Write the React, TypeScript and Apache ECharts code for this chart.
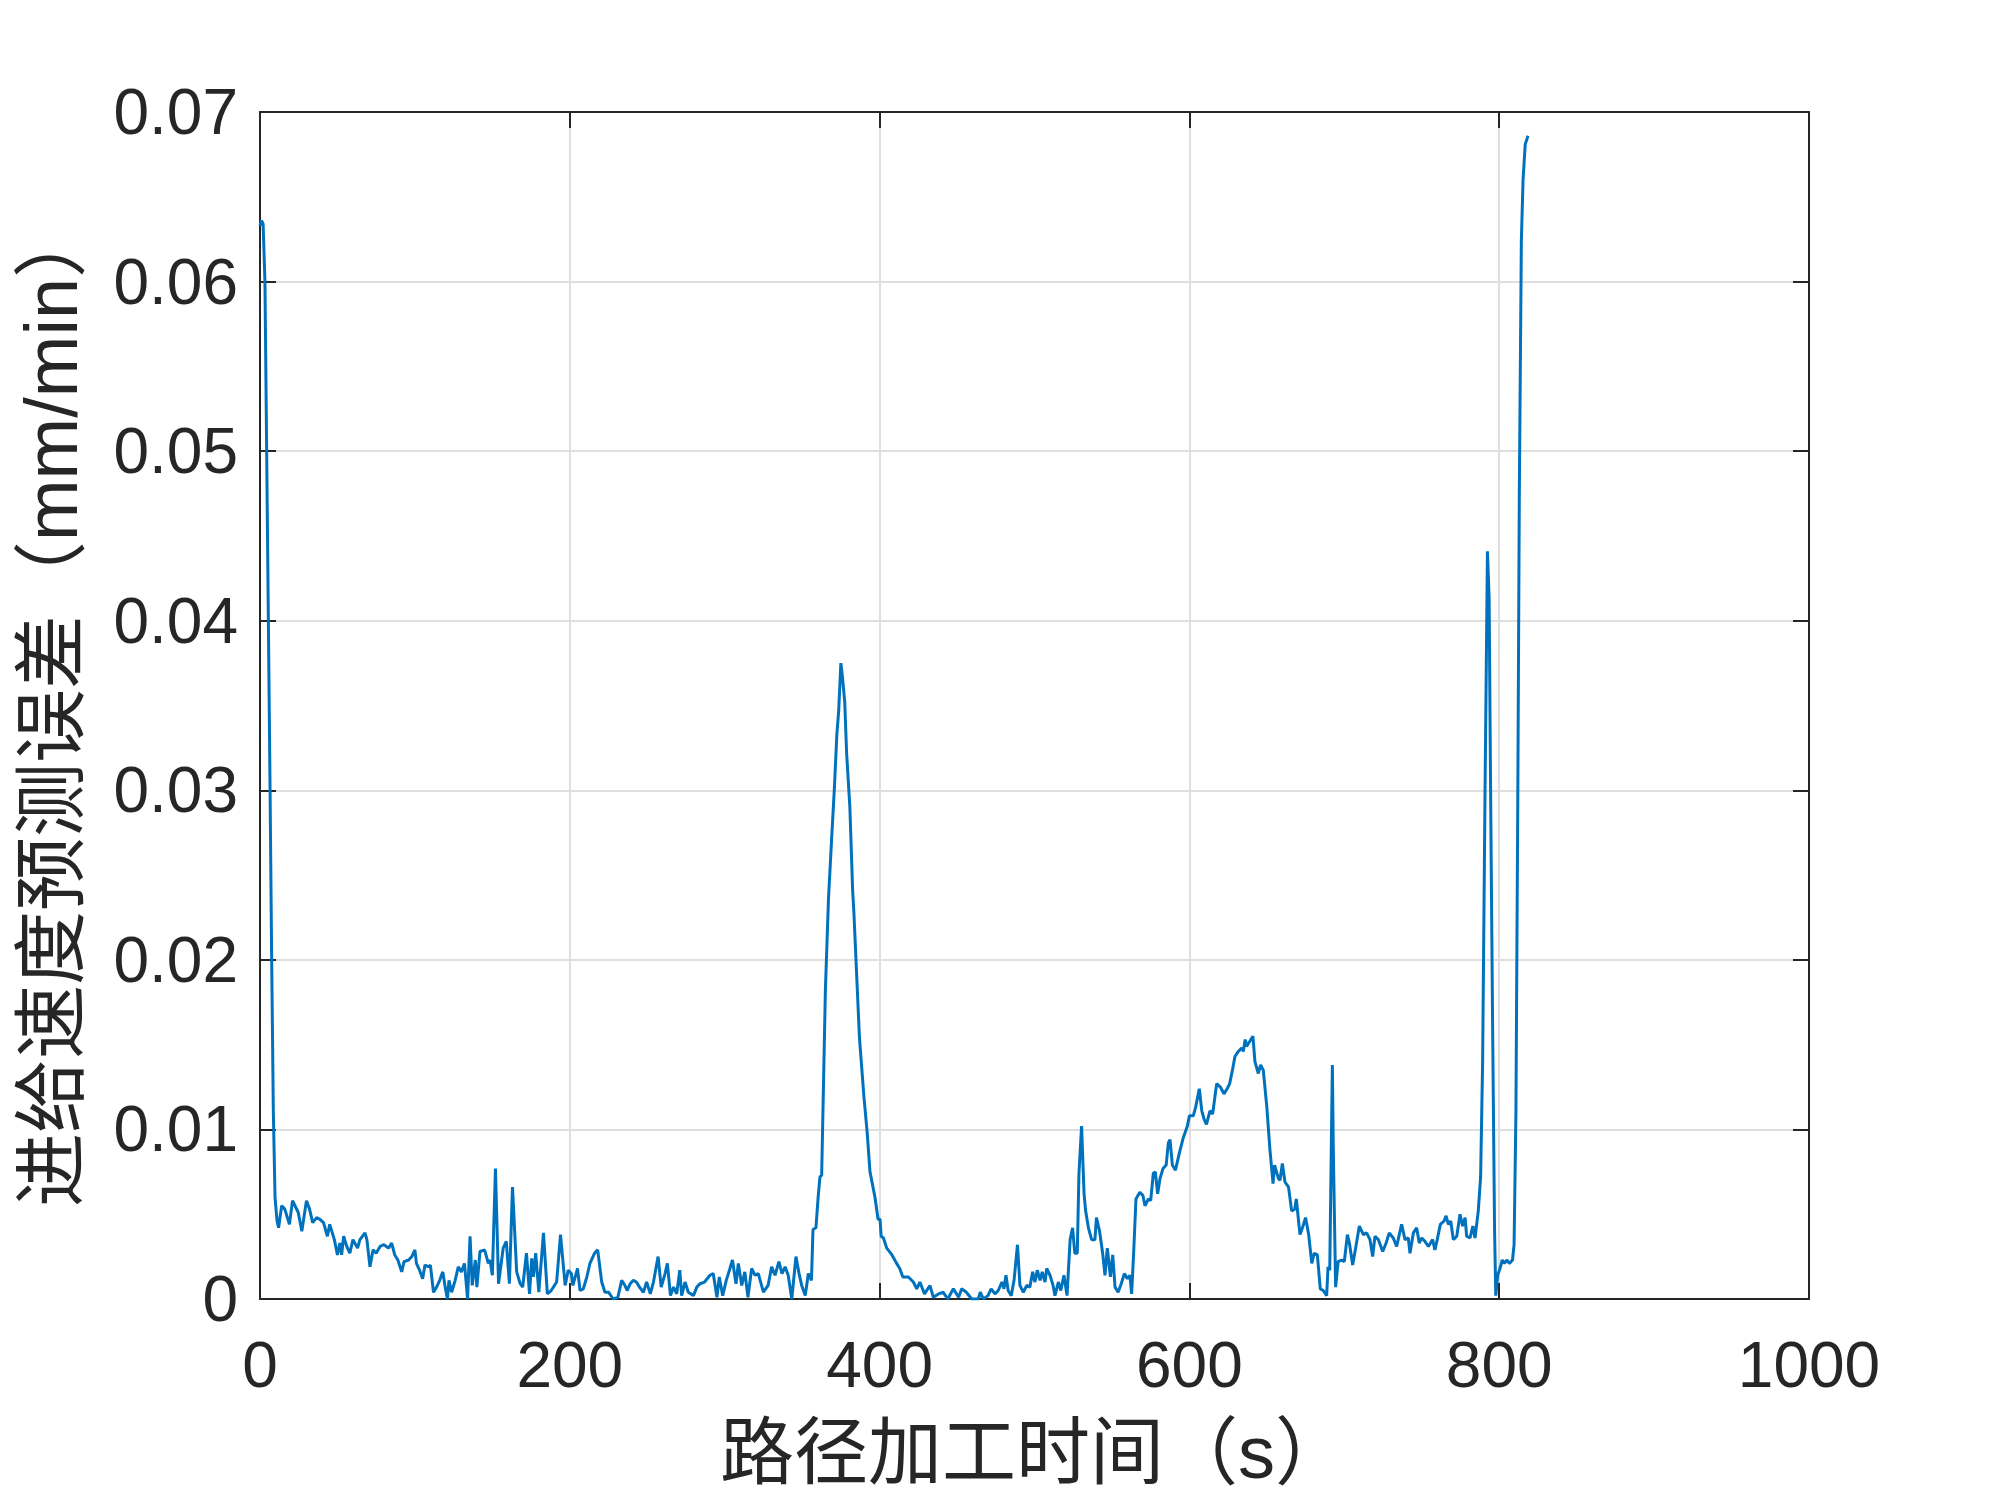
import React, { useEffect, useRef } from "react";
import * as echarts from "echarts";

// Time (s) / feed-speed prediction error (mm/min) pairs, by segment
const startDrop: [number, number][] = [
  [0, 0.0633], [1, 0.0636], [2, 0.0634], [3.2, 0.06], [4.3, 0.05], [5.4, 0.04], [6.5, 0.03],
  [7.5, 0.0203], [8.6, 0.0111], [9.7, 0.006], [11, 0.0046], [12, 0.0042],
];

const earlyNoise: [number, number][] = [
  [14, 0.0055], [16, 0.0053], [19, 0.0044], [21, 0.0058], [22.6, 0.0055], [24.7, 0.0051], [27, 0.004],
  [30, 0.0058], [32, 0.0053], [34, 0.0045], [36.6, 0.0048], [38.7, 0.0047], [41, 0.0045], [43.5, 0.0037],
  [45, 0.0044], [48, 0.0035], [50, 0.0026], [51.6, 0.0033], [52.7, 0.0026], [54, 0.0037], [56, 0.0031],
  [58, 0.0027], [60, 0.0035], [63, 0.003], [64.5, 0.0035], [67.8, 0.0039], [69, 0.0035], [71, 0.0019],
  [73, 0.0029], [75, 0.0027], [77.5, 0.0031], [80, 0.0032], [83, 0.003], [85, 0.0033], [87, 0.0026],
  [89, 0.0023], [91.5, 0.0016], [93, 0.0022], [96, 0.0023], [98, 0.0025], [100, 0.0029], [101, 0.0021],
  [103, 0.0017], [105, 0.0012], [106.5, 0.002], [108.7, 0.0019], [110, 0.002], [112, 0.0004],
  [114, 0.0007], [116, 0.0011], [118, 0.0016], [119.4, 0.0008], [121, 0.0], [122, 0.0011],
  [123.7, 0.0004], [126, 0.0011], [128, 0.0019], [130, 0.0016], [132, 0.0021], [134, 0.0],
  [135.6, 0.0037], [137, 0.0008], [139, 0.0023], [140, 0.0007], [142, 0.0028], [145, 0.0029],
  [147.4, 0.0021], [148.5, 0.0023], [150, 0.0014], [152, 0.0077], [154, 0.0009], [157, 0.003],
  [159, 0.0034], [161, 0.0009], [163, 0.0066], [165.7, 0.0016], [168, 0.0009], [169.6, 0.0007],
  [172, 0.0027], [174, 0.0003], [175.4, 0.0024], [176.5, 0.0013], [178, 0.0027], [180, 0.0004],
  [183, 0.0039], [185.5, 0.0003], [188, 0.0005], [191.5, 0.001], [194, 0.0038], [197, 0.0008],
  [199, 0.0017], [201, 0.0015], [202, 0.0008], [205, 0.0018], [206.6, 0.0005], [208.7, 0.0006],
  [211, 0.0013], [213, 0.0021], [216, 0.0027], [218, 0.0029], [220.6, 0.001], [222.7, 0.0004],
  [225, 0.0004], [228, 0.0], [231, 0.0001], [233.5, 0.0011], [235.6, 0.0008], [237, 0.0005],
  [239, 0.0009], [241, 0.0011], [243, 0.001],
];

const midNoise: [number, number][] = [
  [245, 0.0007], [247.5, 0.0004], [249.6, 0.001], [252, 0.0003], [254, 0.001], [257, 0.0025],
  [259, 0.0007], [261.5, 0.0015], [263, 0.0021], [265, 0.0002], [267, 0.0007], [269, 0.0003],
  [271, 0.0017], [272.2, 0.0002], [274.4, 0.001], [276.5, 0.0004], [279.8, 0.0002], [282, 0.0007],
  [284, 0.0009], [287, 0.001], [290.5, 0.0014], [292.6, 0.0015], [295, 0.0001], [296.5, 0.0013],
  [298.7, 0.0002], [301, 0.0011], [303.4, 0.0018], [305, 0.0023], [307.3, 0.0009], [308.8, 0.0021],
  [311, 0.0008], [313, 0.0016], [315, 0.0001], [317.4, 0.0018], [319.6, 0.0014], [321.7, 0.0015],
  [325, 0.0004], [328, 0.0008], [330.3, 0.0019], [332.5, 0.0014], [335, 0.0022], [337, 0.0015],
  [339, 0.0019], [341, 0.0014], [343.3, 0.0], [346, 0.0025], [348, 0.0015], [349.7, 0.0008],
  [352, 0.0002], [354, 0.0015], [356, 0.0011],
];

const firstPeak: [number, number][] = [
  [357, 0.0041], [358.9, 0.0042], [360.4, 0.0061], [361.5, 0.0072], [362.6, 0.0073], [363.5, 0.0114],
  [365, 0.0182], [367, 0.0236], [369, 0.0271], [370.8, 0.0301], [372.4, 0.0333], [373.6, 0.0347],
  [375, 0.0375], [376, 0.0367], [377.5, 0.0352], [378.7, 0.0322], [380.8, 0.029], [382.6, 0.0241],
  [383.4, 0.0228], [385, 0.0195], [387, 0.0154], [389.9, 0.0119], [392, 0.0098], [393.8, 0.0075],
  [397, 0.006], [399, 0.0047], [400.3, 0.0047], [401, 0.0037], [402.5, 0.0036], [404.6, 0.003],
  [408, 0.0026], [411, 0.0021], [413, 0.0018], [415, 0.0013], [418.6, 0.0013], [421.8, 0.001],
  [424, 0.0006], [426, 0.001], [429, 0.0003], [432.5, 0.0008], [434.7, 0.0001], [438, 0.0003],
  [441, 0.0004], [444, 0.0], [447.6, 0.0006], [451, 0.0001], [453, 0.0006], [456, 0.0004],
  [459.5, 0.0], [463.7, 0.0], [465, 0.0004], [467, 0.0], [470, 0.0002],
];

const hump: [number, number][] = [
  [472, 0.0006], [474.5, 0.0003], [476.6, 0.0005], [479, 0.001], [480.3, 0.0006], [481.6, 0.0014],
  [483, 0.0005], [485, 0.0002], [486.8, 0.0011], [489, 0.0032], [490.6, 0.0008], [492.8, 0.0004],
  [495, 0.0008], [497, 0.0007], [498.8, 0.0016], [500.3, 0.001], [501.8, 0.0017], [503.6, 0.0011],
  [505, 0.0016], [506.8, 0.001], [507.9, 0.0018], [510, 0.0014], [512, 0.0008], [513.2, 0.0002],
  [515.4, 0.001], [517, 0.0005], [519, 0.0014], [521, 0.0002], [523, 0.0035], [524.6, 0.0042],
  [526, 0.0027], [527.6, 0.0027], [528.7, 0.0074], [530.4, 0.0102], [532, 0.0062], [533, 0.0052],
  [534.8, 0.0042], [536.9, 0.0035], [539, 0.0035], [540, 0.0048], [542, 0.004], [544, 0.0027],
  [545.5, 0.0014], [547, 0.003], [549, 0.0013], [550.5, 0.0026], [552, 0.0007], [554, 0.0004],
  [556, 0.0009], [558, 0.0015], [560, 0.0012], [561.6, 0.0014], [562.7, 0.0003], [564, 0.0027],
  [565.5, 0.0059], [568, 0.0063], [570, 0.0061], [571.3, 0.0055], [573.5, 0.0059], [575, 0.0058],
  [576.7, 0.0074], [578, 0.0075], [579.5, 0.0062], [581, 0.0071], [583, 0.0077], [585, 0.0079],
  [586.4, 0.0092], [587.5, 0.0094], [589, 0.0079], [591, 0.0076], [593.5, 0.0086], [596, 0.0095],
  [598.7, 0.0102], [600, 0.0108], [602.5, 0.0108], [604, 0.0113], [606.4, 0.0124], [608, 0.0111],
  [609.5, 0.0106], [611, 0.0103], [613.3, 0.0111], [615, 0.0109], [617.6, 0.0127], [620, 0.0125],
  [622.3, 0.0121], [624.4, 0.0124], [626, 0.0127], [628, 0.0136], [629.4, 0.0143], [631.6, 0.0146],
  [633.7, 0.0148], [634.8, 0.0146], [636, 0.0153], [636.9, 0.0149], [639, 0.0152], [641, 0.0155],
  [642.3, 0.014], [644.5, 0.0133], [646, 0.0138], [647.7, 0.0135], [650, 0.0113], [652, 0.0088],
  [654, 0.0068], [655, 0.0079], [657.5, 0.0071], [658.5, 0.007], [660, 0.008], [661.7, 0.0069],
  [664, 0.0066], [666, 0.0052], [668, 0.0053], [669, 0.0059], [671.4, 0.0038], [673, 0.0042],
  [675, 0.0048], [677, 0.0038], [679, 0.0021], [680.6, 0.0027], [682.6, 0.0026], [684.5, 0.0006],
  [686.4, 0.0005], [688.6, 0.0002], [689.5, 0.0019], [690.6, 0.0017],
];

const lateSection: [number, number][] = [
  [692.3, 0.0138], [692.9, 0.0088], [694.4, 0.0007], [696, 0.0022], [698.3, 0.0023], [700, 0.0022],
  [702, 0.0038], [703.3, 0.0033], [705.4, 0.002], [707.5, 0.0031], [709.7, 0.0043], [712.3, 0.0038],
  [714.4, 0.0039], [716.6, 0.0035], [718.3, 0.0025], [719.8, 0.0037], [722, 0.0035], [724.8, 0.0028],
  [727, 0.0033], [729, 0.0039], [731.6, 0.0036], [733.8, 0.0031], [735.5, 0.0038], [737, 0.0044],
  [739.2, 0.0035], [741.3, 0.0036], [742.4, 0.0027], [744.6, 0.0039], [746.7, 0.0042], [748.4, 0.0033],
  [750, 0.0036], [752, 0.0034], [754.3, 0.0031], [757, 0.0035], [758.5, 0.0029], [760, 0.0035],
  [762, 0.0044], [764.4, 0.0046], [765.7, 0.0049], [767.2, 0.0044], [768.7, 0.0046], [770.4, 0.0035],
  [772.6, 0.0037], [774.7, 0.005], [776.4, 0.0043], [778, 0.0048], [779, 0.0037], [781.2, 0.0036],
  [783, 0.0043], [784.4, 0.0036], [786.5, 0.0052], [788, 0.0072],
];

const endSpikes: [number, number][] = [
  [789.3, 0.014], [790.8, 0.0294], [792.4, 0.0441], [793.5, 0.0413], [794.5, 0.0294], [795.8, 0.0156],
  [797, 0.0041], [797.8, 0.0002], [799, 0.0014], [800.5, 0.0018], [802, 0.0023], [803.4, 0.0021],
  [804.9, 0.0023], [806.6, 0.0021], [808.6, 0.0023], [809.6, 0.0032], [810.8, 0.011], [812, 0.0294],
  [813, 0.0477], [814.3, 0.0624], [815.4, 0.066], [816.8, 0.0681], [818.6, 0.0686],
];

const xTicks = { min: 0, max: 1000, interval: 200 };
const yTicks = { min: 0, max: 0.07, interval: 0.01 };
const xName = "路径加工时间（s）";
const yName = "进给速度预测误差（mm/min）";

const FONT = "'Liberation Sans', Arial, 'Noto Sans CJK SC', sans-serif";
const INK = "#262626";

export default function App() {
  const ref = useRef<HTMLDivElement>(null);

  useEffect(() => {
    if (!ref.current) return;
    const chart = echarts.init(ref.current, undefined, { renderer: "svg" });
    const data = [
      ...startDrop, ...earlyNoise, ...midNoise, ...firstPeak, ...hump, ...lateSection, ...endSpikes,
    ];
    const lineCommon = { show: true, onZero: false, lineStyle: { color: INK, width: 2 } };
    const tickCommon = { show: true, inside: true, length: 16, lineStyle: { color: INK, width: 2 } };
    const gridLine = { show: true, lineStyle: { color: "#dfdfdf", width: 2 } };

    chart.setOption({
      animation: false,
      backgroundColor: "#ffffff",
      grid: { left: 260, top: 112, width: 1549, height: 1187, containLabel: false },
      xAxis: [
        {
          type: "value", position: "bottom", ...xTicks,
          axisLine: lineCommon, axisTick: tickCommon, splitLine: gridLine,
          axisLabel: {
            fontSize: 64, color: INK, fontFamily: FONT, margin: 34,
            formatter: (v: number) => String(v),
          },
          name: xName, nameLocation: "middle", nameGap: 116,
          nameTextStyle: { fontSize: 74, color: INK, fontFamily: FONT },
        },
        {
          type: "value", position: "top", ...xTicks,
          axisLine: lineCommon, axisTick: tickCommon, splitLine: { show: false },
          axisLabel: { show: false },
        },
      ],
      yAxis: [
        {
          type: "value", position: "left", ...yTicks,
          axisLine: lineCommon, axisTick: tickCommon, splitLine: gridLine,
          axisLabel: {
            fontSize: 64, color: INK, fontFamily: FONT, margin: 22,
            formatter: (v: number) => (v === 0 ? "0" : v.toFixed(2)),
          },
          name: yName, nameLocation: "middle", nameRotate: 90, nameGap: 172,
          nameTextStyle: { fontSize: 74, color: INK, fontFamily: FONT },
        },
        {
          type: "value", position: "right", ...yTicks,
          axisLine: lineCommon, axisTick: tickCommon, splitLine: { show: false },
          axisLabel: { show: false },
        },
      ],
      series: [
        {
          type: "line",
          xAxisIndex: 0,
          yAxisIndex: 0,
          data,
          showSymbol: false,
          symbol: "none",
          lineStyle: { color: "#0072BD", width: 3 },
          itemStyle: { color: "#0072BD" },
        },
      ],
    });
    return () => chart.dispose();
  }, []);

  return (
    <div
      ref={ref}
      style={{ position: "fixed", left: 0, top: 0, width: 2000, height: 1500, background: "#fff" }}
    />
  );
}
